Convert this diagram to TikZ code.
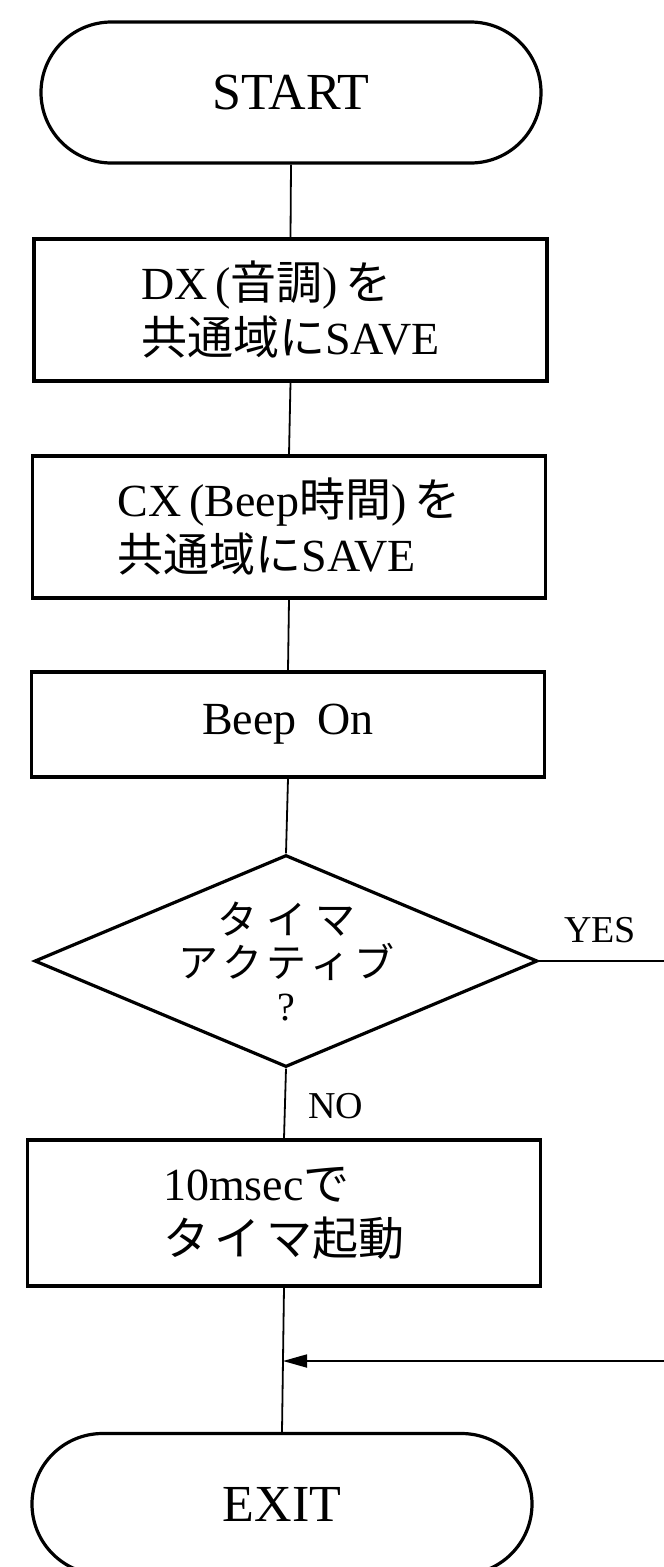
\documentclass[tikz,border=0pt]{standalone}
\usepackage{fontspec}
\setmainfont{Liberation Serif}
\newfontfamily\jp{Noto Sans CJK JP}
\usetikzlibrary{shapes.geometric,shapes.misc,arrows.meta}
\newcommand{\J}[1]{{\jp #1}}
\begin{document}
\begin{tikzpicture}[x=1pt,y=-1pt,
  shapeline/.style={draw=black,line width=3.2pt},
  term/.style={shapeline,rounded rectangle,minimum width=500pt,minimum height=141pt,inner sep=0pt,font=\fontsize{52}{60}\selectfont},
  proc/.style={shapeline,rectangle,minimum width=513pt,inner sep=0pt,align=left,font=\fontsize{46}{55}\selectfont},
  decision/.style={shapeline,diamond,minimum width=503pt,minimum height=212pt,inner sep=0pt},
  conn/.style={draw=black,line width=1.8pt},
  lbl/.style={font=\fontsize{38}{44}\selectfont,inner sep=0pt}
]
\useasboundingbox (0,0) rectangle (664,1567);
\clip (0,0) rectangle (664,1567);
\fill[white] (0,0) rectangle (664,1567);

\node[term] (start) at (291,92.5) {START};
\node[proc,minimum height=142pt] (b1) at (290.5,310) {DX\,(\J{音調})\,\J{を}\\\J{共通域に}SAVE};
\node[proc,minimum height=142pt] (b2) at (289,527) {CX\,(Beep\J{時間})\,\J{を}\\\J{共通域に}SAVE};
\node[proc,minimum height=105pt] (b3) at (288,724.5) {Beep\hspace{0.45em}On};
\node[decision] (dec) at (286,961) {};
\node[align=center,inner sep=0pt,font=\fontsize{40}{43}\selectfont] (dq) at (dec.center)
  {\J{タ\hspace{9pt}イ\hspace{9pt}マ}\\\J{ア\hspace{4pt}ク\hspace{4pt}テ\hspace{4pt}ィ\hspace{4pt}ブ}\\?};
\node[proc,minimum height=146pt] (b4) at (284,1213) {10msec\J{で}\\\J{タ\hspace{6pt}イ\hspace{6pt}マ起動}};
\node[term] (exit) at (282,1504) {EXIT};

\node[lbl] (yes) at (600,930) {YES};
\node[lbl] (no) at (336,1106) {NO};

\coordinate (ye) at (664,961);
\coordinate (re) at (664,1361);
\coordinate (m) at (283,1361);

\draw[conn] (start.south) -- (b1.north);
\draw[conn] (b1.south) -- (b2.north);
\draw[conn] (b2.south) -- (b3.north);
\draw[conn] (b3.south) -- (dec.north);
\draw[conn] (dec.south) -- (b4.north);
\draw[conn] (b4.south) -- (exit.north);
\draw[conn] (dec.east) -- (ye);
\draw[conn,-{Triangle[length=24pt,width=13pt]}] (re) -- (m);
\end{tikzpicture}
\end{document}
